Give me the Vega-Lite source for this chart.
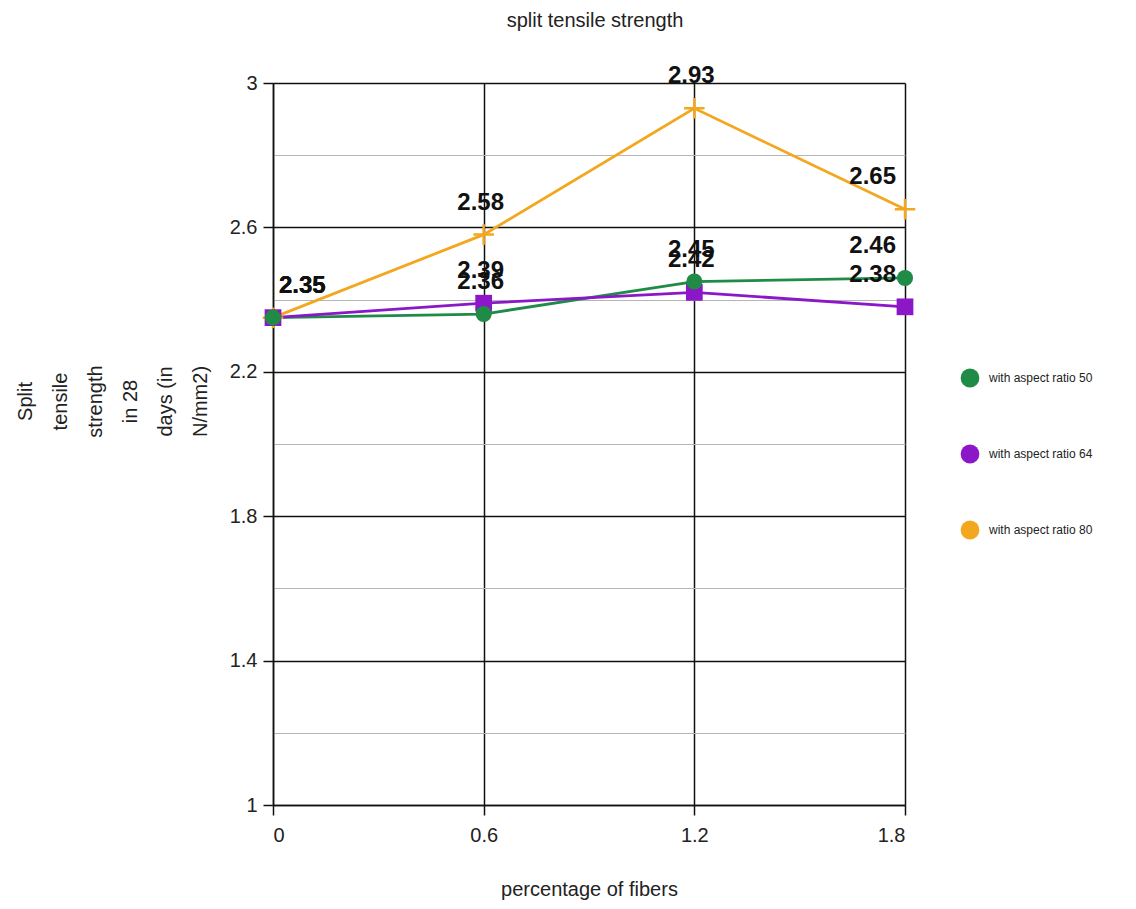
{
  "$schema": "https://vega.github.io/schema/vega-lite/v6.json",
  "width": 632,
  "height": 722,
  "autosize": {"type": "none"},
  "padding": {"left": 273, "top": 83, "right": 231, "bottom": 104},
  "background": "white",
  "config": {
    "font": "Liberation Sans",
    "view": {"stroke": null}
  },
  "title": {
    "text": "split tensile strength",
    "fontSize": 20,
    "fontWeight": "normal",
    "color": "#222",
    "anchor": "middle",
    "offset": 33,
    "dx": 6,
    "font": "Liberation Sans"
  },
  "data": {
    "values": [
      {"x": 0, "y": 2.35, "series": "with aspect ratio 50"},
      {"x": 0.6, "y": 2.36, "series": "with aspect ratio 50"},
      {"x": 1.2, "y": 2.45, "series": "with aspect ratio 50"},
      {"x": 1.8, "y": 2.46, "series": "with aspect ratio 50"},
      {"x": 0, "y": 2.35, "series": "with aspect ratio 64"},
      {"x": 0.6, "y": 2.39, "series": "with aspect ratio 64"},
      {"x": 1.2, "y": 2.42, "series": "with aspect ratio 64"},
      {"x": 1.8, "y": 2.38, "series": "with aspect ratio 64"},
      {"x": 0, "y": 2.35, "series": "with aspect ratio 80"},
      {"x": 0.6, "y": 2.58, "series": "with aspect ratio 80"},
      {"x": 1.2, "y": 2.93, "series": "with aspect ratio 80"},
      {"x": 1.8, "y": 2.65, "series": "with aspect ratio 80"}
    ]
  },
  "resolve": {"legend": {"color": "independent", "stroke": "independent"}},
  "encoding": {
    "x": {
      "field": "x",
      "type": "quantitative",
      "scale": {"domain": [0, 1.8], "nice": false, "zero": false},
      "axis": {
        "values": [0, 0.6, 1.2, 1.8],
        "format": "~g",
        "title": "percentage of fibers",
        "titleFontSize": 20,
        "titleFontWeight": "normal",
        "titleColor": "#222",
        "titlePadding": 34,
        "labelFontSize": 20,
        "labelColor": "#222",
        "labelPadding": 10,
        "tickSize": 10,
        "tickColor": "#111",
        "tickWidth": 1.5,
        "domainColor": "#111",
        "domainWidth": 1.5,
        "grid": true,
        "gridColor": "#111",
        "gridWidth": 1.5,
        "gridOpacity": 1
      }
    },
    "y": {
      "field": "y",
      "type": "quantitative",
      "scale": {"domain": [1, 3], "nice": false, "zero": false},
      "axis": {
        "values": [1, 1.2, 1.4, 1.6, 1.8, 2, 2.2, 2.4, 2.6, 2.8, 3],
        "labelExpr": "round(datum.value*10) % 4 == 2 ? format(datum.value, '~g') : ''",
        "title": ["Split", "tensile", "strength", "in 28", "days (in", "N/mm2)"],
        "titleFontSize": 20,
        "titleFontWeight": "normal",
        "titleColor": "#222",
        "titleAngle": -90,
        "titleAlign": "center",
        "titleBaseline": "middle",
        "titleLineHeight": 35,
        "titleX": -248,
        "titleY": 318,
        "labelFontSize": 20,
        "labelColor": "#222",
        "labelPadding": 6,
        "tickSize": 10,
        "tickColor": {"condition": {"test": "round(datum.value*10) % 4 == 2", "value": "#111"}, "value": "transparent"},
        "tickWidth": 1.5,
        "domainColor": "#111",
        "domainWidth": 1.5,
        "grid": true,
        "gridColor": {"condition": {"test": "round(datum.value*10) % 4 == 2", "value": "#111"}, "value": "#b5b5b5"},
        "gridWidth": {"condition": {"test": "round(datum.value*10) % 4 == 2", "value": 1.5}, "value": 1.2},
        "gridOpacity": 1
      }
    }
  },
  "layer": [
    {
      "mark": {"type": "line", "strokeWidth": 2.8},
      "encoding": {
        "stroke": {
          "field": "series",
          "type": "nominal",
          "scale": {"domain": ["with aspect ratio 50", "with aspect ratio 64", "with aspect ratio 80"], "range": ["#1f8b47", "#8c17c8", "#f3a71f"]},
          "legend": null
        },
        "order": {"field": "series", "sort": "descending"}
      }
    },
    {
      "transform": [{"filter": "datum.series === 'with aspect ratio 80'"}],
      "mark": {"type": "point", "filled": false, "shape": "M-1,0H1M0,-1V1", "size": 420, "stroke": "#f3a71f", "strokeWidth": 2.5, "opacity": 1}
    },
    {
      "transform": [{"filter": "datum.series === 'with aspect ratio 64'"}],
      "mark": {"type": "point", "filled": true, "shape": "square", "size": 280, "color": "#8c17c8", "opacity": 1}
    },
    {
      "transform": [{"filter": "datum.series === 'with aspect ratio 50'"}],
      "mark": {"type": "point", "filled": true, "shape": "circle", "size": 260, "opacity": 1},
      "encoding": {
        "color": {
          "field": "series",
          "type": "nominal",
          "scale": {"domain": ["with aspect ratio 50", "with aspect ratio 64", "with aspect ratio 80"], "range": ["#1f8b47", "#8c17c8", "#f3a71f"]},
          "legend": {
            "title": null,
            "orient": "none",
            "legendX": 686,
            "legendY": 284,
            "padding": 0,
            "labelFontSize": 12,
            "labelColor": "#222",
            "labelFont": "Liberation Sans",
            "symbolSize": 353,
            "symbolStrokeWidth": 2.5,
            "rowPadding": 55,
            "labelOffset": 8,
            "encode": {
              "symbols": {
                "update": {
                  "shape": {"signal": "datum.value === 'with aspect ratio 50' ? 'M-1.6,0H1.6M-0.75,0A0.75,0.75 0 1,1 0.75,0A0.75,0.75 0 1,1 -0.75,0Z' : datum.value === 'with aspect ratio 64' ? 'M-1.6,0H1.6M-0.75,-0.75H0.75V0.75H-0.75Z' : 'M-1.6,0H1.6M0,-1V1'"},
                  "stroke": {"signal": "datum.value === 'with aspect ratio 50' ? '#1f8b47' : datum.value === 'with aspect ratio 64' ? '#8c17c8' : '#f3a71f'"},
                  "strokeWidth": {"value": 2.5}
                }
              }
            }
          }
        }
      }
    },
    {
      "mark": {
        "type": "text",
        "fontSize": 24,
        "fontWeight": "bold",
        "color": "#111",
        "baseline": "middle",
        "dy": -32,
        "align": {"expr": "datum.x == 0 ? 'left' : datum.x == 1.8 ? 'right' : 'center'"},
        "dx": {"expr": "datum.x == 0 ? 6 : datum.x == 1.8 ? -9 : -3"}
      },
      "encoding": {
        "text": {"field": "y", "type": "quantitative", "format": ".2f"}
      }
    }
  ]
}
